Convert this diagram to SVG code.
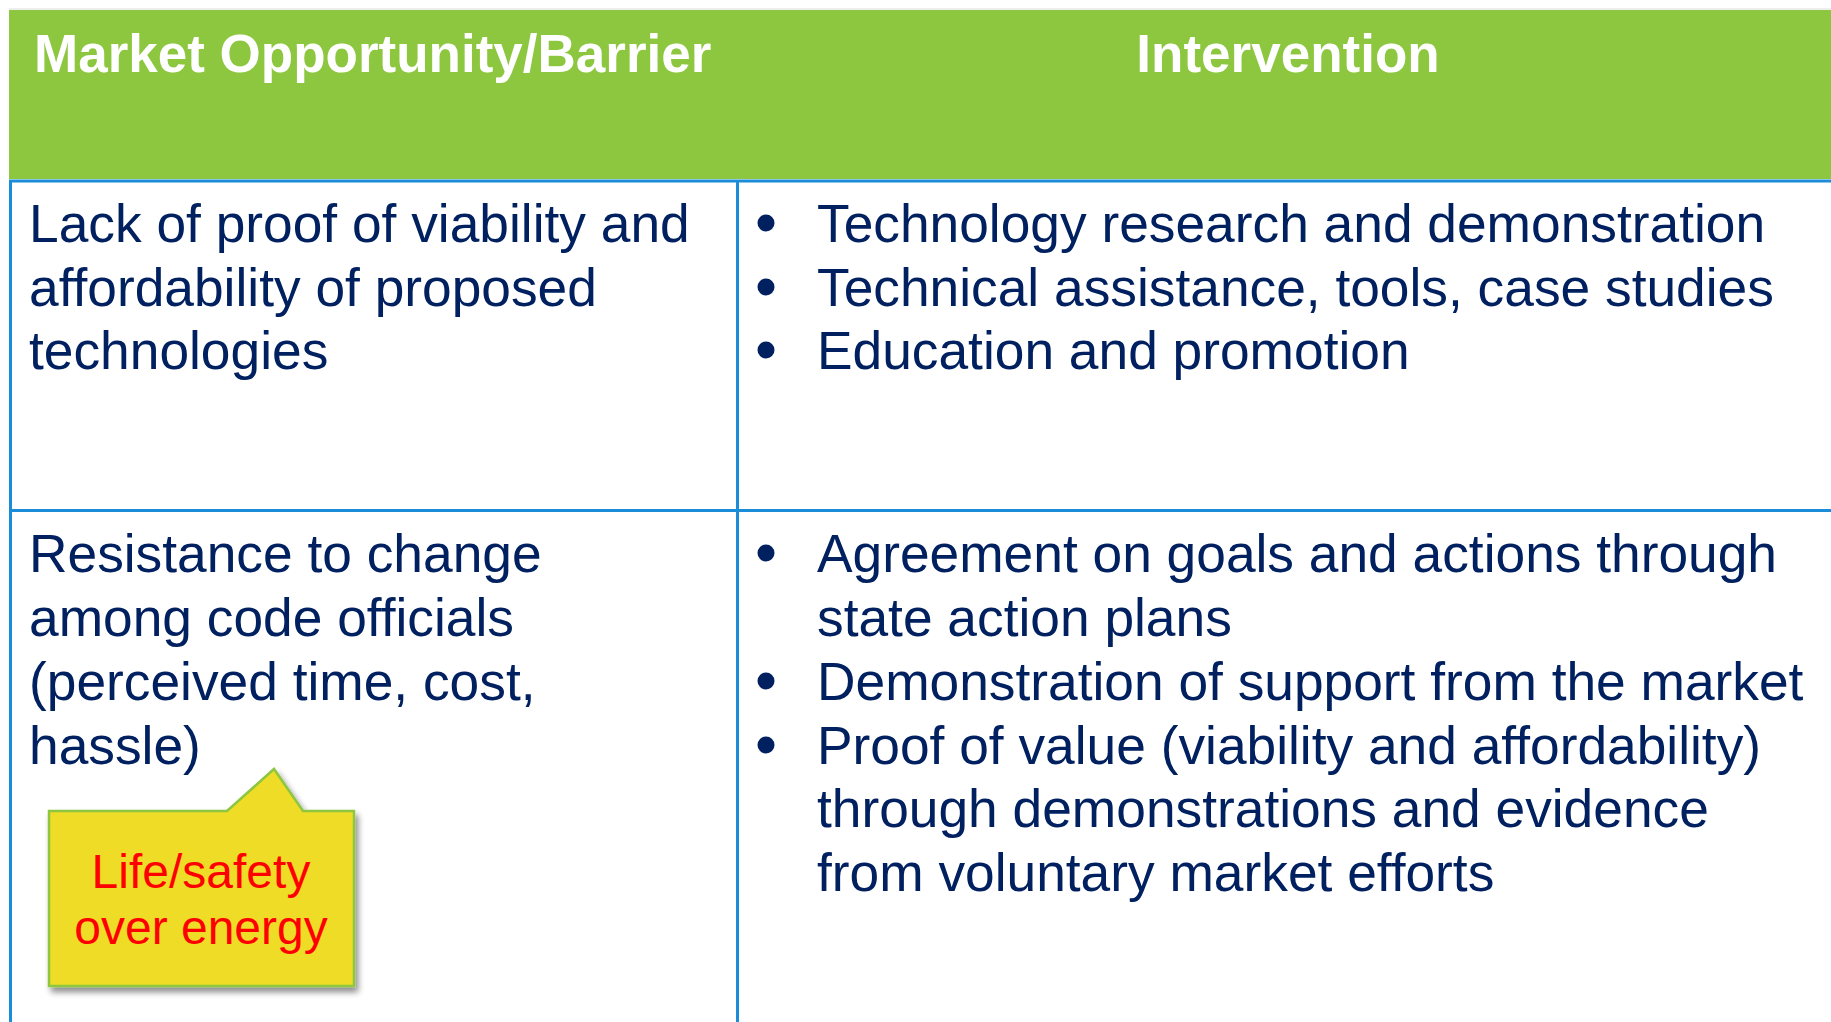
<svg xmlns="http://www.w3.org/2000/svg" width="1831" height="1022" viewBox="0 0 1831 1022">
<defs>
<style>
.hdr{font-family:"Liberation Sans",Arial,sans-serif;font-weight:bold;font-size:53px;fill:#ffffff}
.body{font-family:"Liberation Sans",Arial,sans-serif;font-size:53.3px;fill:#002060}
.note{font-family:"Liberation Sans",Arial,sans-serif;font-size:48px;fill:#ff0000}
.grid{stroke:#1a8cd8;stroke-width:3;fill:none}
.bullet{fill:#002060}
</style>
<filter id="shadow" x="-10%" y="-10%" width="130%" height="130%">
<feGaussianBlur in="SourceAlpha" stdDeviation="3"/>
<feOffset dx="3" dy="5" result="b"/>
<feComponentTransfer><feFuncA type="linear" slope="0.45"/></feComponentTransfer>
<feMerge><feMergeNode/><feMergeNode in="SourceGraphic"/></feMerge>
</filter>
</defs>
<rect width="1831" height="1022" fill="#ffffff"/>
<g id="header">
<line x1="9" y1="9" x2="1831" y2="9" stroke="#dddddd" stroke-width="1"/>
<rect x="9" y="10" width="1822" height="169" fill="#8dc63f"/>
<text class="hdr" x="34" y="72">Market Opportunity/Barrier</text>
<text class="hdr" x="1288" y="72" text-anchor="middle">Intervention</text>
</g>
<g id="grid">
<line class="grid" x1="9" y1="181" x2="1831" y2="181"/>
<line class="grid" x1="9" y1="510.5" x2="1831" y2="510.5"/>
<line class="grid" x1="10.5" y1="180" x2="10.5" y2="1022"/>
<line class="grid" x1="737.5" y1="180" x2="737.5" y2="1022"/>
</g>
<g id="row1-barrier">
<text class="body" x="29" y="242">Lack of proof of viability and</text>
<text class="body" x="29" y="306">affordability of proposed</text>
<text class="body" x="29" y="369">technologies</text>
</g>
<g id="row1-intervention">
<circle class="bullet" cx="766" cy="223" r="8.5"/>
<circle class="bullet" cx="766" cy="287" r="8.5"/>
<circle class="bullet" cx="766" cy="350" r="8.5"/>
<text class="body" x="817" y="242">Technology research and demonstration</text>
<text class="body" x="817" y="306">Technical assistance, tools, case studies</text>
<text class="body" x="817" y="369">Education and promotion</text>
</g>
<g id="row2-barrier">
<text class="body" x="29" y="572">Resistance to change</text>
<text class="body" x="29" y="636">among code officials</text>
<text class="body" x="29" y="700">(perceived time, cost,</text>
<text class="body" x="29" y="764">hassle)</text>
</g>
<g id="row2-intervention">
<circle class="bullet" cx="766" cy="553" r="8.5"/>
<circle class="bullet" cx="766" cy="681" r="8.5"/>
<circle class="bullet" cx="766" cy="745" r="8.5"/>
<text class="body" x="817" y="572">Agreement on goals and actions through</text>
<text class="body" x="817" y="636">state action plans</text>
<text class="body" x="817" y="700">Demonstration of support from the market</text>
<text class="body" x="817" y="764">Proof of value (viability and affordability)</text>
<text class="body" x="817" y="827">through demonstrations and evidence</text>
<text class="body" x="817" y="891">from voluntary market efforts</text>
</g>
<g id="callout">
<path d="M49,811 L227,811 L274,769 L303,811 L354,811 L354,986 L49,986 Z" fill="#efdc27" stroke="#8dc63f" stroke-width="2.5" stroke-linejoin="miter" filter="url(#shadow)"/>
<text class="note" x="201" y="888" text-anchor="middle">Life/safety</text>
<text class="note" x="201" y="944" text-anchor="middle">over energy</text>
</g>
</svg>
